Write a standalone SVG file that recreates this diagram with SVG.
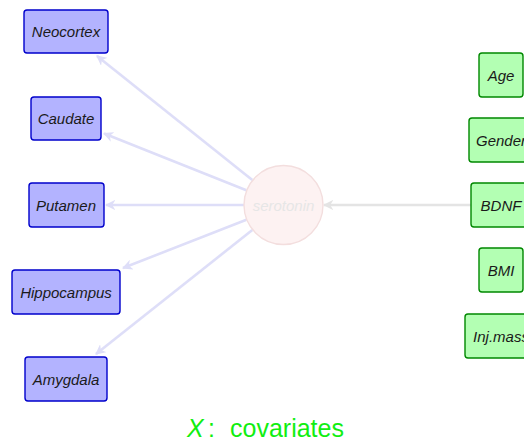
<svg xmlns="http://www.w3.org/2000/svg" width="524" height="444" viewBox="0 0 524 444">
  <style>
    .lbl { font-family: "Liberation Sans", Arial, sans-serif; font-style: italic; font-size: 15px; fill: #1a1a1a; text-anchor: middle; }
    .region rect { fill: #b3b3ff; stroke: #0000cc; stroke-width: 1.4; }
    .cov rect { fill: #b3ffb3; stroke: #008800; stroke-width: 1.4; }
    .out { stroke: #dedef8; stroke-width: 2.6; fill: none; marker-end: url(#tipBlue); }
    .in { stroke: #e4e4e4; stroke-width: 2.6; fill: none; marker-end: url(#tipGray); }
  </style>
  <defs>
    <marker id="tipBlue" viewBox="0 0 10 10" refX="9" refY="5" markerWidth="4" markerHeight="4" orient="auto" markerUnits="strokeWidth">
      <path d="M0,0 L10,5 L0,10 L3,5 Z" fill="#dedef8"/>
    </marker>
    <marker id="tipGray" viewBox="0 0 10 10" refX="9" refY="5" markerWidth="4" markerHeight="4" orient="auto" markerUnits="strokeWidth">
      <path d="M0,0 L10,5 L0,10 L3,5 Z" fill="#e4e4e4"/>
    </marker>
  </defs>

  <rect width="524" height="444" fill="#ffffff"/>

  <!-- connectors -->
  <g id="edges">
    <line class="out" x1="252.3" y1="180" x2="97" y2="56"/>
    <line class="out" x1="246.3" y1="190.2" x2="104" y2="133.5"/>
    <line class="out" x1="244" y1="205" x2="106" y2="205"/>
    <line class="out" x1="246.4" y1="219.8" x2="123" y2="268"/>
    <line class="out" x1="252.3" y1="230" x2="96" y2="354"/>
    <line class="in" x1="471" y1="205" x2="324" y2="205"/>
  </g>

  <!-- brain regions -->
  <g id="neocortex" class="region">
    <rect x="24" y="10" width="84" height="43" rx="3"/>
    <text class="lbl" x="66" y="37">Neocortex</text>
  </g>
  <g id="caudate" class="region">
    <rect x="31" y="97" width="70" height="43" rx="3"/>
    <text class="lbl" x="66" y="124">Caudate</text>
  </g>
  <g id="putamen" class="region">
    <rect x="29" y="183" width="75" height="44" rx="3"/>
    <text class="lbl" x="66" y="210.5">Putamen</text>
  </g>
  <g id="hippocampus" class="region">
    <rect x="12" y="270" width="108" height="44" rx="3"/>
    <text class="lbl" x="66" y="297.5">Hippocampus</text>
  </g>
  <g id="amygdala" class="region">
    <rect x="25" y="357" width="82" height="44" rx="3"/>
    <text class="lbl" x="66" y="384.5">Amygdala</text>
  </g>

  <!-- central node -->
  <g id="serotonin">
    <circle cx="283.5" cy="205" r="39.5" fill="#fdf2f2" stroke="#f3dede" stroke-width="1.4"/>
    <text class="lbl" x="283.5" y="210.5" style="fill:#e6e6e6">serotonin</text>
  </g>

  <!-- covariates -->
  <g id="age" class="cov">
    <rect x="479" y="53" width="44" height="44" rx="3"/>
    <text class="lbl" x="501" y="80.5">Age</text>
  </g>
  <g id="gender" class="cov">
    <rect x="469" y="118" width="64" height="44" rx="3"/>
    <text class="lbl" x="501" y="145.5">Gender</text>
  </g>
  <g id="bdnf" class="cov">
    <rect x="471" y="183" width="60" height="44" rx="3"/>
    <text class="lbl" x="501" y="210.5">BDNF</text>
  </g>
  <g id="bmi" class="cov">
    <rect x="479" y="248" width="44" height="44" rx="3"/>
    <text class="lbl" x="501" y="275.5">BMI</text>
  </g>
  <g id="injmass" class="cov">
    <rect x="465" y="314" width="72" height="44" rx="3"/>
    <text class="lbl" x="501" y="341.5">Inj.mass</text>
  </g>

  <!-- caption -->
  <text id="caption" y="437" style="font-family:'Liberation Sans', Arial, sans-serif; font-size:25px; fill:#11ee11"><tspan x="187" font-style="italic">X</tspan><tspan x="208">:</tspan><tspan x="230">covariates</tspan></text>
</svg>
